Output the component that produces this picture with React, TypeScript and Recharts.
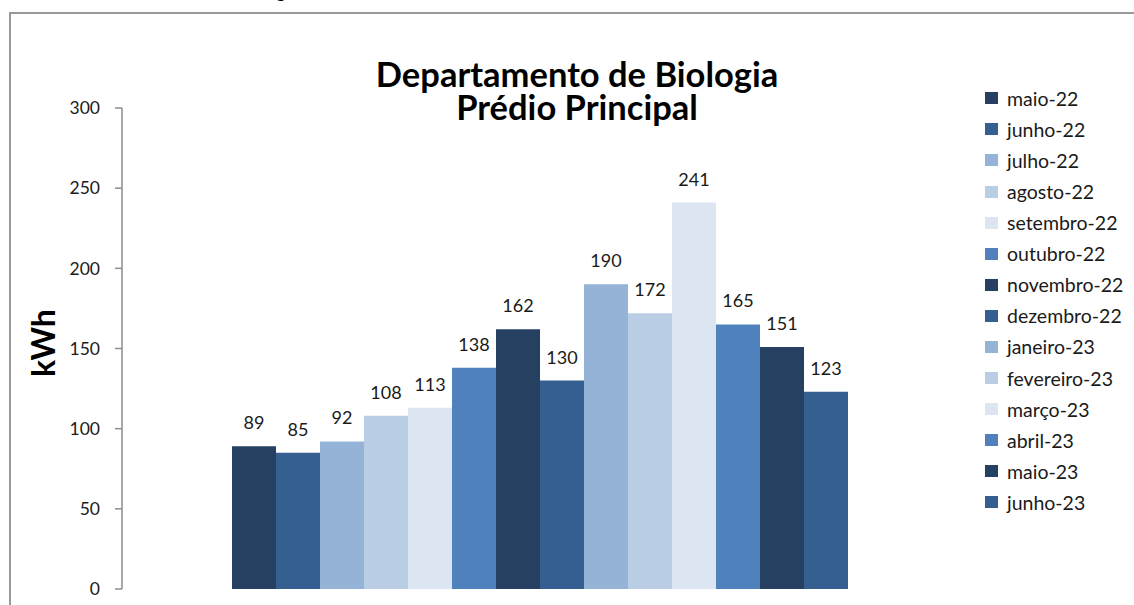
import { BarChart, Bar, XAxis, YAxis, Legend, LabelList } from 'recharts';

const months = [
  'maio-22', 'junho-22', 'julho-22', 'agosto-22', 'setembro-22', 'outubro-22',
  'novembro-22', 'dezembro-22', 'janeiro-23', 'fevereiro-23', 'março-23', 'abril-23',
  'maio-23', 'junho-23',
];
const consumo = [89, 85, 92, 108, 113, 138, 162, 130, 190, 172, 241, 165, 151, 123];
const yTicks = [0, 50, 100, 150, 200, 250, 300];

const PALETTE = ['#254061', '#365F91', '#95B3D7', '#B9CDE5', '#DCE6F2', '#4F81BD'];

const row: Record<string, any> = { name: '' };
months.forEach((m, i) => {
  row['s' + i] = consumo[i];
});
const data = [row];

const FONT = 'Lato, "Open Sans", sans-serif';

function LegendList(props: any) {
  // keep the series order (legend sorts by name otherwise)
  const items = [...(props.payload || [])].sort(
    (a: any, b: any) => months.indexOf(a.value) - months.indexOf(b.value)
  );
  return (
    <div>
      {items.map((it: any, i: number) => (
        <div key={i} style={{ display: 'flex', alignItems: 'center', height: 31.1 }}>
          <span style={{ width: 13, height: 12, background: it.color, marginRight: 9, flex: 'none' }} />
          <span style={{ fontSize: 19.5, color: '#1a1a1a', whiteSpace: 'nowrap' }}>{it.value}</span>
        </div>
      ))}
    </div>
  );
}

const titleStyle: any = {
  position: 'absolute', left: 327, width: 500, textAlign: 'center', fontWeight: 'bold',
  fontSize: 34.5, lineHeight: '33px', color: '#000', whiteSpace: 'nowrap',
};

export default function App() {
  return (
    <div style={{ position: 'absolute', left: 0, top: 0, width: 1134, height: 605, overflow: 'hidden', background: '#fff', fontFamily: FONT }}>
      <div style={{ position: 'absolute', left: 9, top: 12, width: 1200, height: 700, border: '2px solid #999', boxSizing: 'border-box' }} />
      <div style={{ position: 'absolute', left: 243, top: -16, fontFamily: '"Liberation Serif", serif', fontWeight: 'bold', fontSize: 16, lineHeight: '16px', whiteSpace: 'nowrap' }}>
        Energia
      </div>
      <div style={{ position: 'absolute', left: 0, top: 0 }}>
        <BarChart width={1134} height={605} data={data} margin={{ top: 108, right: 172, bottom: 16, left: 62 }} barGap={0} barCategoryGap={110}>
          <XAxis dataKey="name" hide />
          <YAxis
            width={60}
            domain={[0, 300]}
            ticks={yTicks}
            interval={0}
            axisLine={{ stroke: '#8c8c8c', strokeWidth: 1.5 }}
            tickLine={{ stroke: '#8c8c8c', strokeWidth: 1.5 }}
            tickSize={7}
            tickMargin={15}
            tick={{ fill: '#1a1a1a', fontSize: 17.5, fontFamily: FONT }}
          />
          <Legend
            layout="horizontal"
            align="center"
            verticalAlign="middle"
            content={<LegendList />}
            wrapperStyle={{ position: 'absolute', left: 985, top: 82.7, width: 150, height: 440 }}
          />
          {months.map((m, i) => (
            <Bar key={m} dataKey={'s' + i} name={m} fill={PALETTE[i % PALETTE.length]} isAnimationActive={false}>
              <LabelList dataKey={'s' + i} position="top" offset={17} fill="#1a1a1a" fontSize={18} fontFamily={FONT} />
            </Bar>
          ))}
        </BarChart>
      </div>
      <div style={{ ...titleStyle, top: 57.2 }}>Departamento de Biologia</div>
      <div style={{ ...titleStyle, top: 90.2 }}>Prédio Principal</div>
      <div style={{ position: 'absolute', left: 42, top: 343, transform: 'translate(-50%, -50%) rotate(-90deg)', fontWeight: 'bold', fontSize: 32, whiteSpace: 'nowrap' }}>
        kWh
      </div>
    </div>
  );
}
